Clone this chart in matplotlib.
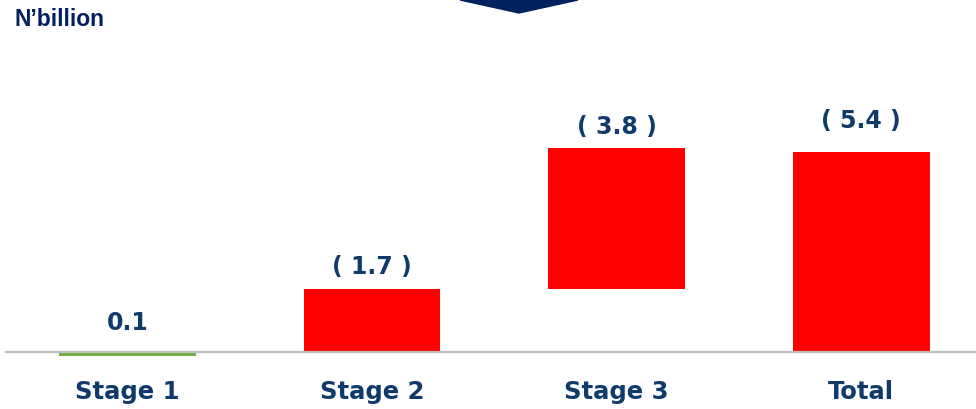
import matplotlib
matplotlib.use("Agg")
import matplotlib.pyplot as plt
from matplotlib.patches import Polygon

# -----------------------------
# data
# -----------------------------
categories = ["Stage 1", "Stage 2", "Stage 3", "Total"]
values = [0.1, -1.7, -3.8, -5.4]
value_labels = ["0.1", "( 1.7 )", "( 3.8 )", "( 5.4 )"]
unit_label = "N\u2019billion"

NAVY = "#0f3a6b"
RED = "#ff0000"
GREEN = "#70ad47"

fig = plt.figure(figsize=(9.76, 4.09), dpi=100)
# axes: baseline (0) sits at y=352px, 37 px per unit
ax = fig.add_axes([5 / 976, 53 / 409, 971 / 976, 296 / 409])

# waterfall: stage 1 hangs just under the baseline, stages 2/3 stack, total from 0
x = list(range(len(categories)))
bottoms = []
heights = []
colors = []
running = 0.0
for i, v in enumerate(values):
    if i == 0:
        bottoms.append(0)
        heights.append(-v)
        colors.append(GREEN)
    elif i == len(values) - 1:
        bottoms.append(0)
        heights.append(-v)
        colors.append(RED)
    else:
        bottoms.append(running)
        heights.append(-v)
        colors.append(RED)
        running += -v

ax.bar(x, heights, bottom=bottoms, width=0.56, color=colors, zorder=2)

# value labels above each bar
label_pad = [12, 7, 7, 14]
for i, lab in enumerate(value_labels):
    top = max(0, bottoms[i] + heights[i], bottoms[i])
    ax.annotate(lab, (x[i], top), xytext=(0, label_pad[i]), textcoords="offset points",
                ha="center", va="bottom", fontsize=17, fontweight="bold",
                color=NAVY, family="DejaVu Sans")

ax.axhline(0, color="#bfbfbf", lw=1.6, zorder=3)

ax.set_xlim(-0.501, 3.47)
ax.set_ylim(-0.108, 7.89)
ax.set_xticks(x)
ax.set_xticklabels(categories, fontsize=17.5, fontweight="bold", color=NAVY, family="DejaVu Sans")
ax.tick_params(axis="x", length=0, pad=17)
ax.set_yticks([])
for s in ax.spines.values():
    s.set_visible(False)

fig.text(14 / 976, 1 - 20 / 409, unit_label, fontsize=16.5, fontweight="bold",
         color="#002060", family="Liberation Sans", va="center", ha="left")

# chevron arrow cut off at the top edge
arrow = Polygon([(460 / 976, 1.0), (578 / 976, 1.0), (519 / 976, 1 - 13 / 409)],
                closed=True, transform=fig.transFigure, color="#002060")
fig.patches.append(arrow)

fig.savefig("out.png", dpi=100)
